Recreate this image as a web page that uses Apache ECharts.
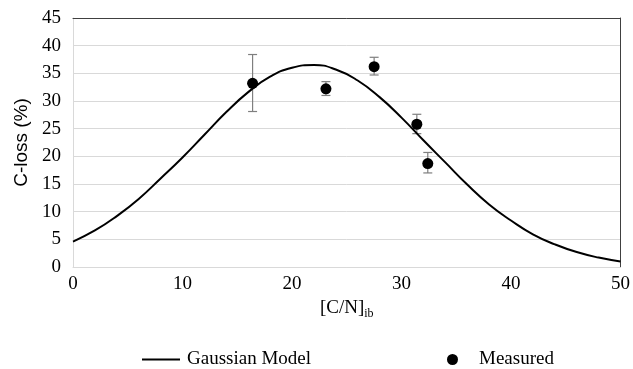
<!DOCTYPE html>
<html><head><meta charset="utf-8">
<script src="https://cdn.jsdelivr.net/npm/echarts@6/dist/echarts.min.js"></script>
<style>html,body{margin:0;padding:0;background:#fff}#c{width:633px;height:369px}</style>
</head><body><div id="c"></div>
<script>
// Gaussian model curve
const modelX = [0,2,4,6,8,10,12,14,16,18,20,22,24,26,28,30,32,34,36,38,40,42,44,46,48,50];
const modelY = [4.6,6.6,9.2,12.3,16.0,19.8,23.9,28.0,31.6,34.4,36.0,36.5,35.7,33.7,30.7,27.0,22.9,18.9,14.9,11.3,8.4,5.9,4.1,2.7,1.7,1.0];
// Measured points with error bars
const measX = [16.4, 23.1, 27.5, 31.4, 32.4];
const measY = [33.2, 32.2, 36.2, 25.8, 18.7];
const errLow = [28.1, 31.0, 34.7, 24.1, 17.0];
const errHigh = [38.4, 33.5, 37.9, 27.6, 20.7];
const xTicks = [0,10,20,30,40,50];
const yTicks = [0,5,10,15,20,25,30,35,40,45];

const serif = '"Liberation Serif","Times New Roman",serif';
const sans = '"Liberation Sans",Arial,sans-serif';
const chart = echarts.init(document.getElementById('c'));
chart.setOption({
  animation: false,
  backgroundColor: '#fff',
  grid: { left: 73, right: 12, top: 18, bottom: 102 },
  legend: [
    { data: [{name: 'Gaussian Model', icon: 'rect'}], left: 137, top: 345, itemWidth: 38, itemHeight: 2,
      textStyle: { fontFamily: serif, fontSize: 19, color: '#000', padding: [0,0,0,2] } },
    { data: [{name: 'Measured', icon: 'circle', itemStyle: {opacity: 1}}], left: 442, top: 345, itemWidth: 11, itemHeight: 11,
      textStyle: { fontFamily: serif, fontSize: 19, color: '#000', padding: [0,0,0,16] } }
  ],
  xAxis: [{
    type: 'value', min: 0, max: 50, interval: 10,
    name: '[C/N]{sub|ib}', nameLocation: 'middle', nameGap: 21,
    nameTextStyle: { fontFamily: serif, fontSize: 19, color: '#000',
      rich: { sub: { fontFamily: serif, fontSize: 12, color: '#000', verticalAlign: 'bottom', padding: [10,0,0,0] } } },
    axisLine: { show: true, lineStyle: { color: '#d9d9d9', width: 1 } },
    axisTick: { show: false }, splitLine: { show: false },
    axisLabel: { fontFamily: serif, fontSize: 19, color: '#000', margin: 8 }
  }, {
    type: 'value', min: 0, max: 50, position: 'top',
    axisLine: { show: true, onZero: false, lineStyle: { color: '#404040', width: 1 } },
    axisTick: { show: false }, axisLabel: { show: false }, splitLine: { show: false }
  }],
  yAxis: [{
    type: 'value', min: 0, max: 45, interval: 5,
    name: 'C-loss (%)', nameLocation: 'middle', nameGap: 40,
    nameTextStyle: { fontFamily: sans, fontSize: 19, color: '#000' },
    axisLine: { show: true, lineStyle: { color: '#d9d9d9', width: 1 } },
    axisTick: { show: false },
    splitLine: { show: true, lineStyle: { color: '#d9d9d9', width: 1 } },
    axisLabel: { fontFamily: serif, fontSize: 19, color: '#000', margin: 12 }
  }, {
    type: 'value', min: 0, max: 45, position: 'right',
    axisLine: { show: true, onZero: false, lineStyle: { color: '#404040', width: 1 } },
    axisTick: { show: false }, axisLabel: { show: false }, splitLine: { show: false }
  }],
  series: [
    { name: 'Gaussian Model', type: 'line', smooth: 0.5, symbol: 'none',
      lineStyle: { color: '#000', width: 2 }, itemStyle: { color: '#000' },
      data: modelX.map((x, i) => [x, modelY[i]]), z: 3 },
    { name: 'errbars', type: 'custom', z: 2,
      data: measX.map((x, i) => [x, errLow[i], errHigh[i]]),
      renderItem: function (params, api) {
        const lo = api.coord([api.value(0), api.value(1)]);
        const hi = api.coord([api.value(0), api.value(2)]);
        const w = 4.5;
        const st = { stroke: '#7f7f7f', lineWidth: 1.2 };
        return { type: 'group', children: [
          { type: 'line', shape: { x1: lo[0], y1: lo[1], x2: hi[0], y2: hi[1] }, style: st },
          { type: 'line', shape: { x1: lo[0]-w, y1: lo[1], x2: lo[0]+w, y2: lo[1] }, style: st },
          { type: 'line', shape: { x1: hi[0]-w, y1: hi[1], x2: hi[0]+w, y2: hi[1] }, style: st }
        ]};
      }
    },
    { name: 'Measured', type: 'scatter', symbol: 'circle', symbolSize: 11, z: 4,
      itemStyle: { color: '#000', opacity: 1 },
      data: measX.map((x, i) => [x, measY[i]]) }
  ]
});
</script></body></html>
